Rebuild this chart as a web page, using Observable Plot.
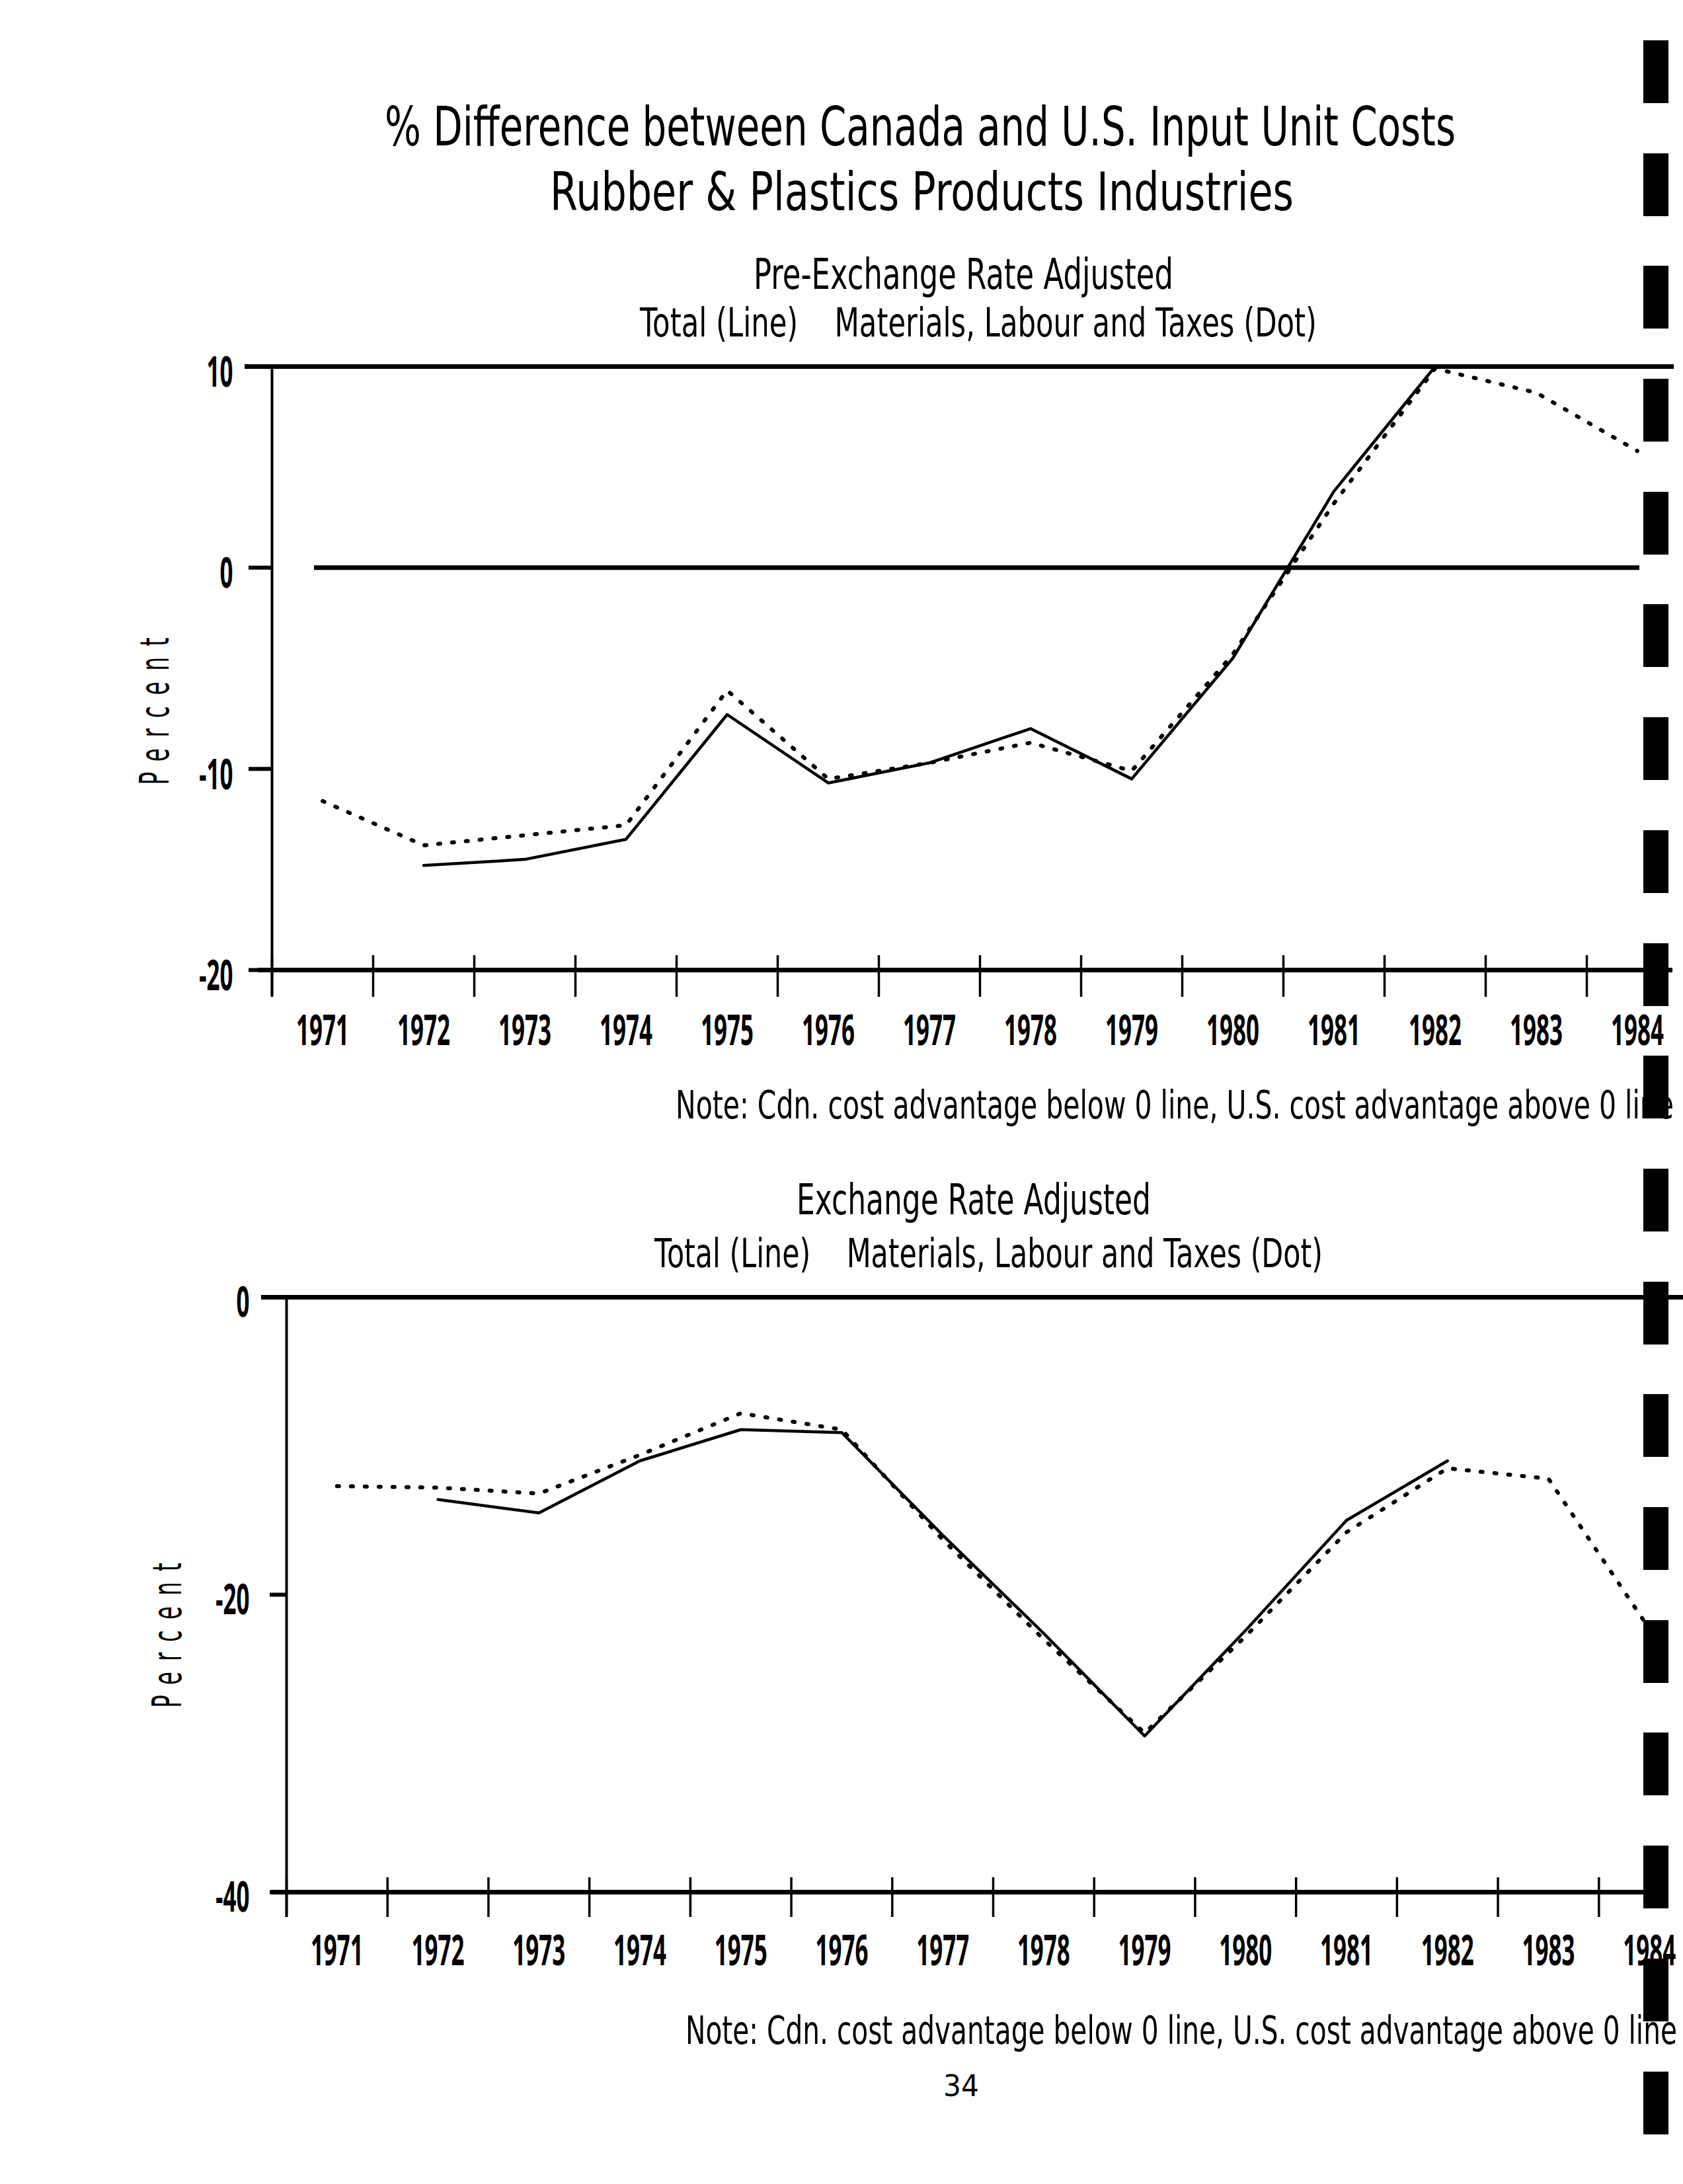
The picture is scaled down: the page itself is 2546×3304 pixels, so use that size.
<!DOCTYPE html>
<html><head><meta charset="utf-8">
<script src="https://cdn.jsdelivr.net/npm/d3@7"></script>
<script src="https://cdn.jsdelivr.net/npm/@observablehq/plot@0.6"></script>
<style>
html,body{margin:0;padding:0;background:#fff;}
#page{position:relative;width:2546px;height:3304px;overflow:hidden;background:#fff;font-family:"DejaVu Sans",sans-serif;color:#000;}
.t{position:absolute;white-space:pre;line-height:1;transform-origin:0 0;}
.chart{position:absolute;left:0;}
.chart svg{overflow:visible;max-width:none;}
#edge{position:absolute;left:2486px;width:38px;top:61px;height:3243px;background:repeating-linear-gradient(to bottom,#000 0px,#000 95px,transparent 95px,transparent 170.7px);}
</style></head><body><div id="page"></div>
<script>
// ---------- data ----------
const years = [1971,1972,1973,1974,1975,1976,1977,1978,1979,1980,1981,1982,1983,1984];
const yearLabels = years.map(String);
const totalYears = [1972,1973,1974,1975,1976,1977,1978,1979,1980,1981,1982];
// Pre-exchange rate adjusted (%)
const preTotal = [-14.8,-14.5,-13.5,-7.3,-10.7,-9.7,-8.0,-10.5,-4.5,3.8,10.0];
const preDot   = [-11.6,-13.8,-13.3,-12.8,-6.1,-10.5,-9.7,-8.7,-10.1,-4.3,3.2,9.9,8.7,5.8];
// Exchange rate adjusted (%)
const exTotal  = [-13.6,-14.5,-11.0,-8.9,-9.1,-16.0,-22.6,-29.5,-22.4,-15.0,-11.0];
const exDot    = [-12.7,-12.8,-13.2,-10.6,-7.8,-8.9,-16.3,-23.0,-29.3,-22.8,-15.8,-11.5,-12.2,-22.3];
const preTicks = [10,0,-10,-20];
const preTickLabels = ["10","0","-10","-20"];
const exTicks = [0,-20,-40];
const exTickLabels = ["0","-20","-40"];

const title1 = "% Difference between Canada and U.S. Input Unit Costs";
const title2 = "Rubber & Plastics Products Industries";
const sub1 = "Pre-Exchange Rate Adjusted";
const sub2 = "Exchange Rate Adjusted";
const legendText = "Total (Line)    Materials, Labour and Taxes (Dot)";
const noteText = "Note: Cdn. cost advantage below 0 line, U.S. cost advantage above 0 line";
const yLabel = "Percent";
const pageNo = "34";

// ---------- layout ----------
const page = document.getElementById("page");
const TICKFONT = "Noto Sans";

function baselineOffset(d) {
  const m = document.createElement("span");
  m.style.cssText = "display:inline-block;width:0;height:0;vertical-align:baseline;";
  d.appendChild(m);
  const off = m.getBoundingClientRect().top - d.getBoundingClientRect().top;
  d.removeChild(m);
  return off;
}
function addText(s, left, width, base, size, weight) {
  const d = document.createElement("div");
  d.className = "t";
  d.textContent = s;
  d.style.fontSize = size + "px";
  d.style.fontWeight = weight || "normal";
  d.style.left = left + "px";
  d.style.top = "0px";
  page.appendChild(d);
  const off = baselineOffset(d);
  d.style.top = (base - off) + "px";
  const w = d.getBoundingClientRect().width;
  d.style.transform = `scaleX(${width / w})`;
}
function addYLabel(cx, cy, length, size) {
  const d = document.createElement("div");
  d.className = "t";
  d.textContent = yLabel;
  d.style.fontSize = size + "px";
  d.style.letterSpacing = "0.5em";
  d.style.paddingLeft = "0.5em";
  d.style.left = cx + "px";
  d.style.top = cy + "px";
  page.appendChild(d);
  const w = d.getBoundingClientRect().width;
  d.style.transform = `rotate(-90deg) scaleX(${length / w}) translate(-50%,-50%)`;
}

addText(title1, 582, 1620, 220, 82);
addText(title2, 832, 1125, 318, 80);
addText(sub1, 1140, 635, 437, 64);
addText(legendText, 968, 1024, 509, 60);
addText(noteText, 1022, 1510, 1692, 58);
addText(sub2, 1205, 536, 1837, 64);
addText(legendText, 990, 1011, 1917, 60);
addText(noteText, 1037, 1500, 3092, 58);
addText(pageNo, 1427, 54, 3171, 44);
addYLabel(234, 1076, 256, 60);
addYLabel(253, 2474, 252, 60);

function chart(cfg) {
  const x0 = years[0] - 0.5;
  const bounds = years.map(y => y - 0.5);
  const tot = cfg.totalYears.map((y, i) => ({year: y, value: cfg.total[i]}));
  const dot = years.map((y, i) => ({year: y, value: cfg.dot[i]}));
  const ticks = cfg.ticks;
  const yTop = ticks[0], yBot = ticks[ticks.length - 1];
  const marks = [
    Plot.ruleY([yTop], {stroke: "#000", strokeWidth: 7, insetLeft: cfg.topInset[0], insetRight: cfg.topInset[1]}),
    Plot.ruleY([yBot], {stroke: "#000", strokeWidth: 7, insetLeft: cfg.botInset[0], insetRight: cfg.botInset[1]}),
  ];
  if (cfg.zeroInset) marks.push(Plot.ruleY([0], {stroke: "#000", strokeWidth: 7, insetLeft: cfg.zeroInset[0], insetRight: cfg.zeroInset[1]}));
  marks.push(
    Plot.ruleX([x0], {y1: yTop, y2: yBot, stroke: "#000", strokeWidth: 4, insetBottom: cfg.axisExt}),
    Plot.ruleX(bounds, {y1: yBot, y2: yBot, stroke: "#000", strokeWidth: 3.5, insetTop: -22, insetBottom: cfg.tickExt}),
    Plot.ruleY(ticks, {x1: x0, x2: x0, stroke: "#000", strokeWidth: 6, insetLeft: cfg.yTickLen, insetRight: -2}),
    Plot.text(years, {x: d => d, y: yBot, text: (d, i) => yearLabels[i], dy: cfg.labelDy, fontSize: 64, fontWeight: "bold", fontFamily: TICKFONT, fill: "#000"}),
    Plot.text(ticks, {x: x0, y: d => d, text: (d, i) => cfg.tickLabels[i], textAnchor: "end", dx: cfg.yLabelDx, dy: cfg.yLabelDy, fontSize: 64, fontWeight: "bold", fontFamily: TICKFONT, fill: "#000"}),
    Plot.line(dot, {x: "year", y: "value", stroke: "#000", strokeWidth: 6, strokeDasharray: "3,18", strokeLinecap: "round"}),
    Plot.line(tot, {x: "year", y: "value", stroke: "#000", strokeWidth: 4.5, strokeLinejoin: "round"})
  );
  const svg = Plot.plot({
    width: 2546,
    height: cfg.height,
    marginLeft: cfg.xRange[0],
    marginRight: 0,
    marginTop: cfg.yRange[1],
    marginBottom: cfg.height - cfg.yRange[0],
    x: {domain: [years[0] - 0.5, years[years.length - 1] + 0.5], range: cfg.xRange, axis: null},
    y: {domain: [yBot, yTop], range: cfg.yRange, axis: null},
    style: {background: "transparent", overflow: "visible"},
    marks
  });
  const holder = document.createElement("div");
  holder.className = "chart";
  holder.style.top = cfg.top + "px";
  holder.appendChild(svg);
  page.appendChild(holder);
  // compress tick labels horizontally (narrow plotter lettering): a year label is ~80px wide
  const texts = svg.querySelectorAll('g[aria-label="text"] text');
  let yearLen = 0;
  texts.forEach(t => { if (t.textContent === yearLabels[0]) yearLen = t.getComputedTextLength(); });
  const k = yearLen > 0 ? 80 / yearLen : 0.5;
  texts.forEach(t => {
    const tr = t.getAttribute("transform");
    if (tr) {
      t.setAttribute("transform", `${tr} scale(${k.toFixed(4)},1)`);
    } else {
      const x = +(t.getAttribute("x") || 0), y = +(t.getAttribute("y") || 0);
      t.setAttribute("x", 0);
      t.setAttribute("y", 0);
      t.setAttribute("transform", `translate(${x},${y}) scale(${k.toFixed(4)},1)`);
    }
  });
}

chart({
  top: 520, height: 1100,
  xRange: [411, 2553], yRange: [947, 34],
  totalYears, total: preTotal, dot: preDot,
  ticks: preTicks, tickLabels: preTickLabels,
  topInset: [-41, 14], botInset: [-21, 16], zeroInset: [64, 66],
  axisExt: -40, tickExt: -41, yTickLen: -35,
  labelDy: 93, yLabelDx: -59, yLabelDy: 10
});
chart({
  top: 1930, height: 1080,
  xRange: [433, 2571], yRange: [932, 32],
  totalYears, total: exTotal, dot: exDot,
  ticks: exTicks, tickLabels: exTickLabels,
  topInset: [-38, 0], botInset: [-23, 46], zeroInset: null,
  axisExt: -38, tickExt: -38, yTickLen: -25,
  labelDy: 90, yLabelDx: -56, yLabelDy: 9
});

const edge = document.createElement("div");
edge.id = "edge";
page.appendChild(edge);
</script>
</body></html>
